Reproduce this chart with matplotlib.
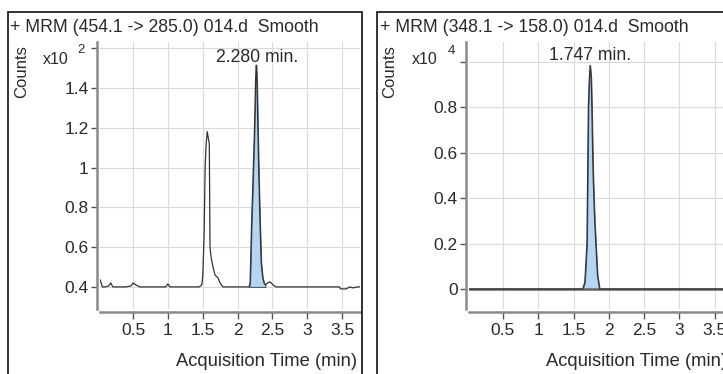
import matplotlib
matplotlib.use("Agg")
import matplotlib.pyplot as plt
from matplotlib.patches import Rectangle
import numpy as np

plt.rcParams['font.family'] = ['Liberation Sans', 'DejaVu Sans']

# ---- data ----
# left: MRM 454.1 -> 285.0, counts x10^2
left_t = [0.03, 0.06, 0.10, 0.15, 0.18, 0.21, 0.30, 0.40, 0.47, 0.50, 0.54, 0.60,
          0.75, 0.90, 0.97, 1.00, 1.03, 1.15, 1.30, 1.45, 1.487, 1.50, 1.52, 1.535,
          1.55, 1.565, 1.58, 1.595, 1.605, 1.62, 1.648, 1.677, 1.72, 1.75, 1.79,
          1.90, 2.00, 2.10, 2.165, 2.18, 2.19, 2.20, 2.22, 2.24, 2.26, 2.27, 2.28,
          2.30, 2.32, 2.34, 2.36, 2.38, 2.40, 2.43, 2.47, 2.51, 2.55, 2.70, 2.90,
          3.10, 3.30, 3.46, 3.48, 3.52, 3.56, 3.61, 3.66, 3.71, 3.758]
left_y = [0.435, 0.40, 0.40, 0.405, 0.42, 0.40, 0.40, 0.40, 0.405, 0.42, 0.41, 0.40,
          0.40, 0.40, 0.40, 0.415, 0.40, 0.40, 0.40, 0.40, 0.41, 0.45, 0.65, 1.00,
          1.12, 1.18, 1.15, 1.12, 0.60, 0.55, 0.50, 0.46, 0.445, 0.42, 0.40,
          0.40, 0.40, 0.40, 0.40, 0.42, 0.55, 0.70, 0.92, 1.15, 1.45, 1.515, 1.42,
          1.05, 0.75, 0.52, 0.45, 0.42, 0.41, 0.42, 0.425, 0.41, 0.40, 0.40, 0.40,
          0.40, 0.40, 0.40, 0.39, 0.39, 0.39, 0.40, 0.395, 0.40, 0.40]
left_peak = (2.165, 2.40)
left_base = 0.40

# right: MRM 348.1 -> 158.0, counts x10^4
right_t = [0.02, 1.00, 1.60, 1.63, 1.66, 1.69, 1.70, 1.71, 1.72, 1.735, 1.75, 1.76,
           1.77, 1.78, 1.80, 1.82, 1.84, 1.87, 2.00, 3.00, 3.76]
right_y = [0.0, 0.0, 0.0, 0.0, 0.03, 0.20, 0.50, 0.80, 0.90, 0.985, 0.93, 0.80,
           0.62, 0.48, 0.30, 0.18, 0.06, 0.0, 0.0, 0.0, 0.0]
right_peak = (1.63, 1.87)
right_base = 0.0

W, H = 723, 374


def fx(x):
    return x / W


def fy(y):
    return 1 - y / H


fig = plt.figure(figsize=(W / 100, H / 100), dpi=100)
fig.patch.set_facecolor('white')

# outer panel frames
for x0, x1 in [(8, 362), (377, 760)]:
    fig.patches.append(Rectangle((fx(x0), fy(400)), (x1 - x0) / W, (400 - 12) / H,
                                 transform=fig.transFigure, fill=False,
                                 ec='#222222', lw=1.3, zorder=0))

ax1 = fig.add_axes([fx(100), fy(309), 260 / W, 267 / H])
ax2 = fig.add_axes([fx(469), fy(309), 264 / W, 267 / H])

xt = [0.5, 1, 1.5, 2, 2.5, 3, 3.5]
xtl = ['0.5', '1', '1.5', '2', '2.5', '3', '3.5']


def style(ax, xlim, ylim, yt, ytl):
    ax.set_xlim(*xlim)
    ax.set_ylim(*ylim)
    ax.set_xticks(xt)
    ax.set_xticklabels(xtl)
    ax.set_yticks(yt)
    ax.set_yticklabels(ytl)
    ax.grid(True, color='#dadada', lw=0.8)
    ax.set_axisbelow(True)
    for s in ['top', 'right']:
        ax.spines[s].set_visible(False)
    for s in ['left', 'bottom']:
        ax.spines[s].set_position(('outward', 2.2))
        ax.spines[s].set_color('#8a8a8a')
        ax.spines[s].set_linewidth(1.8)
    ax.tick_params(axis='y', length=4, width=1, color='#555555', pad=2,
                   labelsize=12.5, labelcolor='#2a2a2a')
    ax.tick_params(axis='x', length=5, width=1, color='#555555', pad=3,
                   labelsize=12.5, labelcolor='#2a2a2a')


style(ax1, (0.026, 3.758), (0.289, 1.631),
      [0.4, 0.6, 0.8, 1.0, 1.2, 1.4, 1.6], ['0.4', '0.6', '0.8', '1', '1.2', '1.4', ''])
style(ax2, (0.019, 3.76), (-0.088, 1.088),
      [0, 0.2, 0.4, 0.6, 0.8, 1.0], ['0', '0.2', '0.4', '0.6', '0.8', ''])

# left trace
lt = np.array(left_t)
ly = np.array(left_y)
m = (lt >= left_peak[0]) & (lt <= left_peak[1])
ax1.fill_between(lt[m], left_base, ly[m], color='#b6d5f5', ec='#4d5b70', lw=0.8, zorder=2)
ax1.plot(lt, ly, color='#333333', lw=0.9, zorder=3)

# right trace
rt = np.array(right_t)
ry = np.array(right_y)
m = (rt >= right_peak[0]) & (rt <= right_peak[1])
ax2.fill_between(rt[m], right_base, ry[m], color='#b6d5f5', ec='#4d5b70', lw=0.8, zorder=2)
ax2.axhline(0, color='#666666', lw=1.8, zorder=3)
ax2.plot(rt, ry, color='#333333', lw=0.9, zorder=4)

# titles, labels, annotations
fs = 12.7
fig.text(fx(10), fy(28), '+ MRM (454.1 -> 285.0) 014.d  Smooth', fontsize=fs,
         va='center', ha='left', color='#2a2a2a')
fig.text(fx(380), fy(28), '+ MRM (348.1 -> 158.0) 014.d  Smooth', fontsize=fs,
         va='center', ha='left', color='#2a2a2a')

fig.text(fx(22), fy(72), 'Counts', fontsize=12, rotation=90, va='center', ha='center',
         color='#2a2a2a')
fig.text(fx(390), fy(72), 'Counts', fontsize=12, rotation=90, va='center', ha='center',
         color='#2a2a2a')

fig.text(fx(43), fy(59), 'x10', fontsize=11.5, va='center', ha='left', color='#2a2a2a')
fig.text(fx(77), fy(50), '2', fontsize=9.5, va='center', ha='left', color='#2a2a2a')
fig.text(fx(412), fy(60), 'x10', fontsize=11.5, va='center', ha='left', color='#2a2a2a')
fig.text(fx(448), fy(51), '4', fontsize=9.5, va='center', ha='left', color='#2a2a2a')

fig.text(fx(257), fy(57), '2.280 min.', fontsize=fs, va='center', ha='center',
         color='#2a2a2a')
fig.text(fx(590), fy(56), '1.747 min.', fontsize=fs, va='center', ha='center',
         color='#2a2a2a')

fig.text(fx(357), fy(362), 'Acquisition Time (min)', fontsize=13.2, va='center',
         ha='right', color='#2a2a2a')
fig.text(fx(727), fy(362), 'Acquisition Time (min)', fontsize=13.2, va='center',
         ha='right', color='#2a2a2a')

fig.savefig('out.png', dpi=100)
